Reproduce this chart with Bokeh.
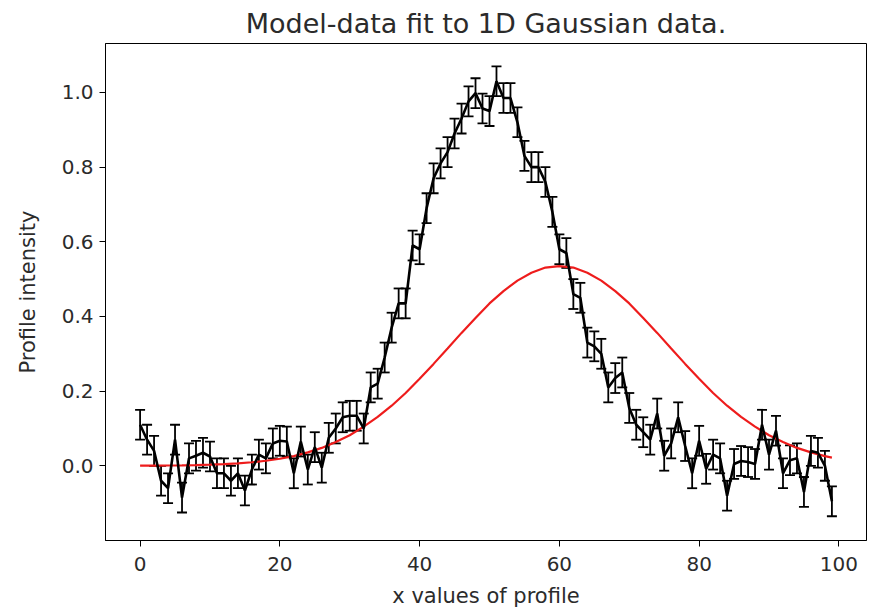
from bokeh.plotting import figure
from bokeh.models import ColumnDataSource, Whisker, TeeHead, Range1d, PrintfTickFormatter, FixedTicker
from bokeh.embed import file_html
from bokeh.resources import INLINE

# observed profile (x = 0..99)
x_data = list(range(100))
y_data = [0.11, 0.07, 0.04, -0.04, -0.06, 0.07, -0.085, 0.02, 0.027, 0.035,
          0.025, -0.02, -0.02, -0.04, -0.02, -0.066, -0.01, 0.03, 0.02, 0.06,
          0.067, 0.065, -0.02, 0.065, -0.01, 0.05, -0.005, 0.075, 0.10, 0.13,
          0.134, 0.134, 0.10, 0.21, 0.22, 0.29, 0.37, 0.435, 0.435, 0.59,
          0.58, 0.69, 0.77, 0.81, 0.84, 0.89, 0.93, 0.976, 0.998, 0.957,
          0.95, 1.03, 0.985, 0.985, 0.92, 0.83, 0.80, 0.80, 0.76, 0.68,
          0.58, 0.57, 0.46, 0.45, 0.33, 0.32, 0.30, 0.21, 0.235, 0.25,
          0.155, 0.11, 0.09, 0.07, 0.14, 0.027, 0.06, 0.13, 0.053, -0.02,
          0.067, -0.008, 0.03, 0.02, -0.08, 0.005, 0.013, 0.01, 0.005, 0.11,
          0.03, 0.094, -0.02, 0.015, 0.02, -0.07, 0.04, 0.035, 0.0, -0.095]
y_err = [0.04] * 100

# model curve
x_model = [0, 2, 4, 6, 8, 10, 12, 14, 16, 18, 20, 22, 24, 26, 28, 30, 32, 34,
           36, 38, 40, 42, 44, 46, 48, 50, 52, 54, 56, 58, 60, 62, 64, 66, 68,
           70, 72, 74, 76, 78, 80, 82, 84, 86, 88, 90, 92, 94, 96, 98, 99]
y_model = [0.0003, 0.0005, 0.0008, 0.0012, 0.0019, 0.003, 0.0044, 0.0066,
           0.0095, 0.0136, 0.019, 0.026, 0.036, 0.048, 0.064, 0.082, 0.105,
           0.131, 0.161, 0.195, 0.233, 0.273, 0.314, 0.356, 0.396, 0.435,
           0.468, 0.496, 0.517, 0.531, 0.535, 0.531, 0.517, 0.496, 0.468,
           0.435, 0.396, 0.356, 0.314, 0.273, 0.233, 0.195, 0.161, 0.131,
           0.105, 0.082, 0.064, 0.048, 0.036, 0.026, 0.022]

x_ticks = [0, 20, 40, 60, 80, 100]
y_ticks = [0.0, 0.2, 0.4, 0.6, 0.8, 1.0]

FONT = "DejaVu Sans"
TXT = "#2b2b2b"

p = figure(width=870, height=610, output_backend="svg", toolbar_location=None,
           x_range=Range1d(-4.95, 103.95), y_range=Range1d(-0.2, 1.131),
           min_border_left=105, min_border_right=4, min_border_top=42,
           min_border_bottom=70)
p.title.text = "Model-data fit to 1D Gaussian data."
p.title.align = "center"
p.title.text_font = FONT
p.title.text_font_size = "27px"
p.title.text_font_style = "normal"
p.title.text_color = TXT
p.title.standoff = 10

p.xgrid.visible = False
p.ygrid.visible = False
p.outline_line_color = "black"
p.outline_line_width = 1

src = ColumnDataSource(dict(x=x_data, y=y_data,
                            lo=[a - b for a, b in zip(y_data, y_err)],
                            hi=[a + b for a, b in zip(y_data, y_err)]))

p.line(x_model, y_model, line_color="#ee1c1c", line_width=2.2)
p.line("x", "y", source=src, line_color="black", line_width=2.6)
w = Whisker(base="x", lower="lo", upper="hi", source=src,
            line_color="black", line_width=1.8,
            upper_head=TeeHead(size=10, line_color="black", line_width=1.8),
            lower_head=TeeHead(size=10, line_color="black", line_width=1.8))
p.add_layout(w)

for ax in (p.xaxis[0], p.yaxis[0]):
    ax.axis_line_color = "black"
    ax.major_tick_line_color = "black"
    ax.major_tick_out = 6
    ax.major_tick_in = 0
    ax.minor_tick_line_color = None
    ax.major_label_text_font = FONT
    ax.major_label_text_font_size = "20px"
    ax.major_label_text_color = TXT
    ax.axis_label_text_font = FONT
    ax.axis_label_text_font_size = "21px"
    ax.axis_label_text_font_style = "normal"
    ax.axis_label_text_color = TXT

p.xaxis.ticker = FixedTicker(ticks=x_ticks)
p.yaxis.ticker = FixedTicker(ticks=y_ticks)
p.yaxis.formatter = PrintfTickFormatter(format="%.1f")
p.xaxis.axis_label = "x values of profile"
p.yaxis.axis_label = "Profile intensity"
p.xaxis.major_label_standoff = 10
p.yaxis.major_label_standoff = 6
p.xaxis.axis_label_standoff = 10
p.yaxis.axis_label_standoff = 19

open("out.html", "w").write(file_html(p, INLINE))
